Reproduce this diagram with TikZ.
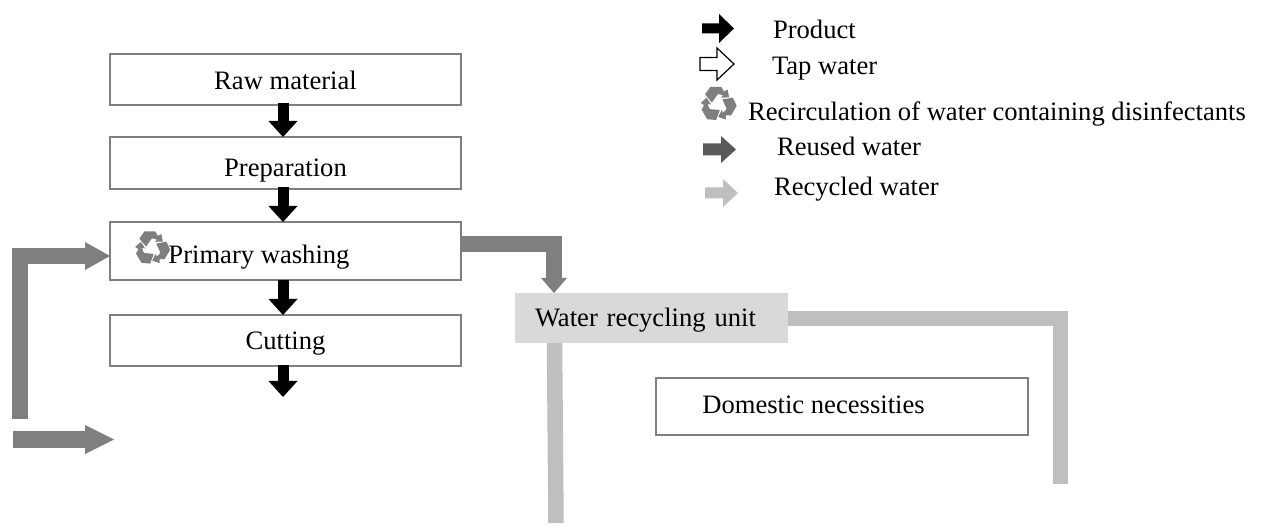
\documentclass[tikz,border=0pt]{standalone}
\usepackage{fontspec}
\setmainfont{Liberation Serif}
\usetikzlibrary{arrows.meta}
\definecolor{boxline}{HTML}{7F7F7F}
\definecolor{reuse}{HTML}{7F7F7F}
\definecolor{reusedark}{HTML}{595959}
\definecolor{recyc}{HTML}{BFBFBF}
\definecolor{unitfill}{HTML}{D9D9D9}
\tikzset{
  x=1pt,y=-1pt,
  every node/.style={font=\fontsize{26.6}{30}\selectfont,inner sep=0pt,outer sep=0pt},
  stepbox/.style={draw=boxline,line width=1.2pt,fill=white,minimum width=351pt,text depth=8pt},
  legendtext/.style={anchor=base west},
  flowarrow/.style={line width=11pt,black,-{Triangle[length=16pt,width=29pt,line width=0pt]}},
  reusearrow/.style={line width=16pt,reuse,line join=miter,-{Triangle[length=25pt,width=28pt,line width=0pt]}},
  recycline/.style={line width=15.5pt,recyc,line join=miter},
}
% bent-arrow recycling icon, centred on the origin
\newcommand{\recycleicon}[3]{%
  \begin{scope}[shift={(#1,#2)},scale=#3]
    \foreach \a in {0,120,240}{
      \fill[reuse,rotate=\a]
        (-0.70,-0.52) -- (-0.42,-0.92) -- (0.18,-0.92) -- (0.32,-0.68) -- (0.52,-0.78) -- (0.60,-0.36)
        -- (0.16,-0.34) -- (0.28,-0.46) -- (0.12,-0.52) -- (-0.02,-0.52) -- (-0.33,-0.08) -- cycle;
    }
  \end{scope}}
\newcommand{\blockarrow}[7]{% x0 x1 xh ymid halfshaft halfhead style
  \path[#7] (#1,#4-#5) -- (#3,#4-#5) -- (#3,#4-#6) -- (#2,#4) -- (#3,#4+#6) -- (#3,#4+#5) -- (#1,#4+#5) -- cycle;}
\begin{document}
\begin{tikzpicture}
\useasboundingbox (0,0) rectangle (1264,526);
% process boxes
\node[stepbox,minimum height=51pt,text height=29pt] (raw) at (285.5,79.5) {Raw material};
\node[stepbox,minimum height=52pt,text height=36pt] (prep) at (285.5,163) {Preparation};
\node[stepbox,minimum height=58pt] (prim) at (285.5,251) {};
\node[stepbox,minimum height=51pt,text height=27pt] (cut) at (285.5,340.5) {Cutting};
\node[anchor=base] (primlabel) at (259,264) {Primary washing};
\recycleicon{152}{248}{18}
% water unit and domestic box
\node[fill=unitfill,minimum width=273pt,minimum height=50pt,text width=233pt,align=left,text height=26pt,text depth=8pt] (unit) at (651.5,318) {Water recycling unit};
\node[draw=boxline,line width=1.2pt,minimum width=372pt,minimum height=57pt,text height=22pt,text depth=8pt] (dom) at (842,406.5) {\kern-57pt Domestic necessities};
% product arrows
\draw[flowarrow] ([xshift=-2.5pt,yshift=2pt]raw.south) -- ([xshift=-2.5pt]prep.north);
\draw[flowarrow] ([xshift=-2.5pt,yshift=2pt]prep.south) -- ([xshift=-2.5pt]prim.north);
\draw[flowarrow] ([xshift=-2.5pt]prim.south) -- ([xshift=-2.5pt]cut.north);
\coordinate (cutout) at (283,397);
\draw[flowarrow] ([xshift=-2.5pt,yshift=1pt]cut.south) -- (cutout);
% reused water
\coordinate (reusestart) at (19.5,419);
\draw[reusearrow] (reusestart) |- (prim.west |- 0,256);
\coordinate (reuseA) at (13,439.5);
\coordinate (reuseB) at (114,439.5);
\draw[reusearrow,line width=17pt,-{Triangle[length=29pt,width=29pt,line width=0pt]}] (reuseA) -- (reuseB);
\draw[reusearrow,-{Triangle[length=15pt,width=26pt,line width=0pt]}] (prim.east |- 0,244) -| (unit.north -| 554,0);
% recycled water
\coordinate (outA) at (556,523);
\draw[recycline] ([xshift=-97pt]unit.south) -- (outA);
\coordinate (outB) at (1060.5,484);
\draw[recycline] (unit.east |- 0,318.5) -| (outB);
% legend
\blockarrow{702}{734}{719}{28.5}{5}{14.5}{fill=black}
\blockarrow{700}{734}{717}{64}{6.5}{16}{draw=black,line width=1.2pt,fill=white}
\recycleicon{718}{104}{18.5}
\blockarrow{703}{736}{721}{149.5}{6}{13.5}{fill=reusedark}
\blockarrow{705}{738}{723}{193}{5.5}{14}{fill=recyc}
\node[legendtext] (lproduct) at (773,39) {Product};
\node[legendtext] (ltap) at (772,75) {Tap water};
\node[legendtext] (lrecirc) at (748,121) {Recirculation of water containing disinfectants};
\node[legendtext] (lreuse) at (777,156) {Reused water};
\node[legendtext] (lrecyc) at (774,196) {Recycled water};
\end{tikzpicture}
\end{document}
